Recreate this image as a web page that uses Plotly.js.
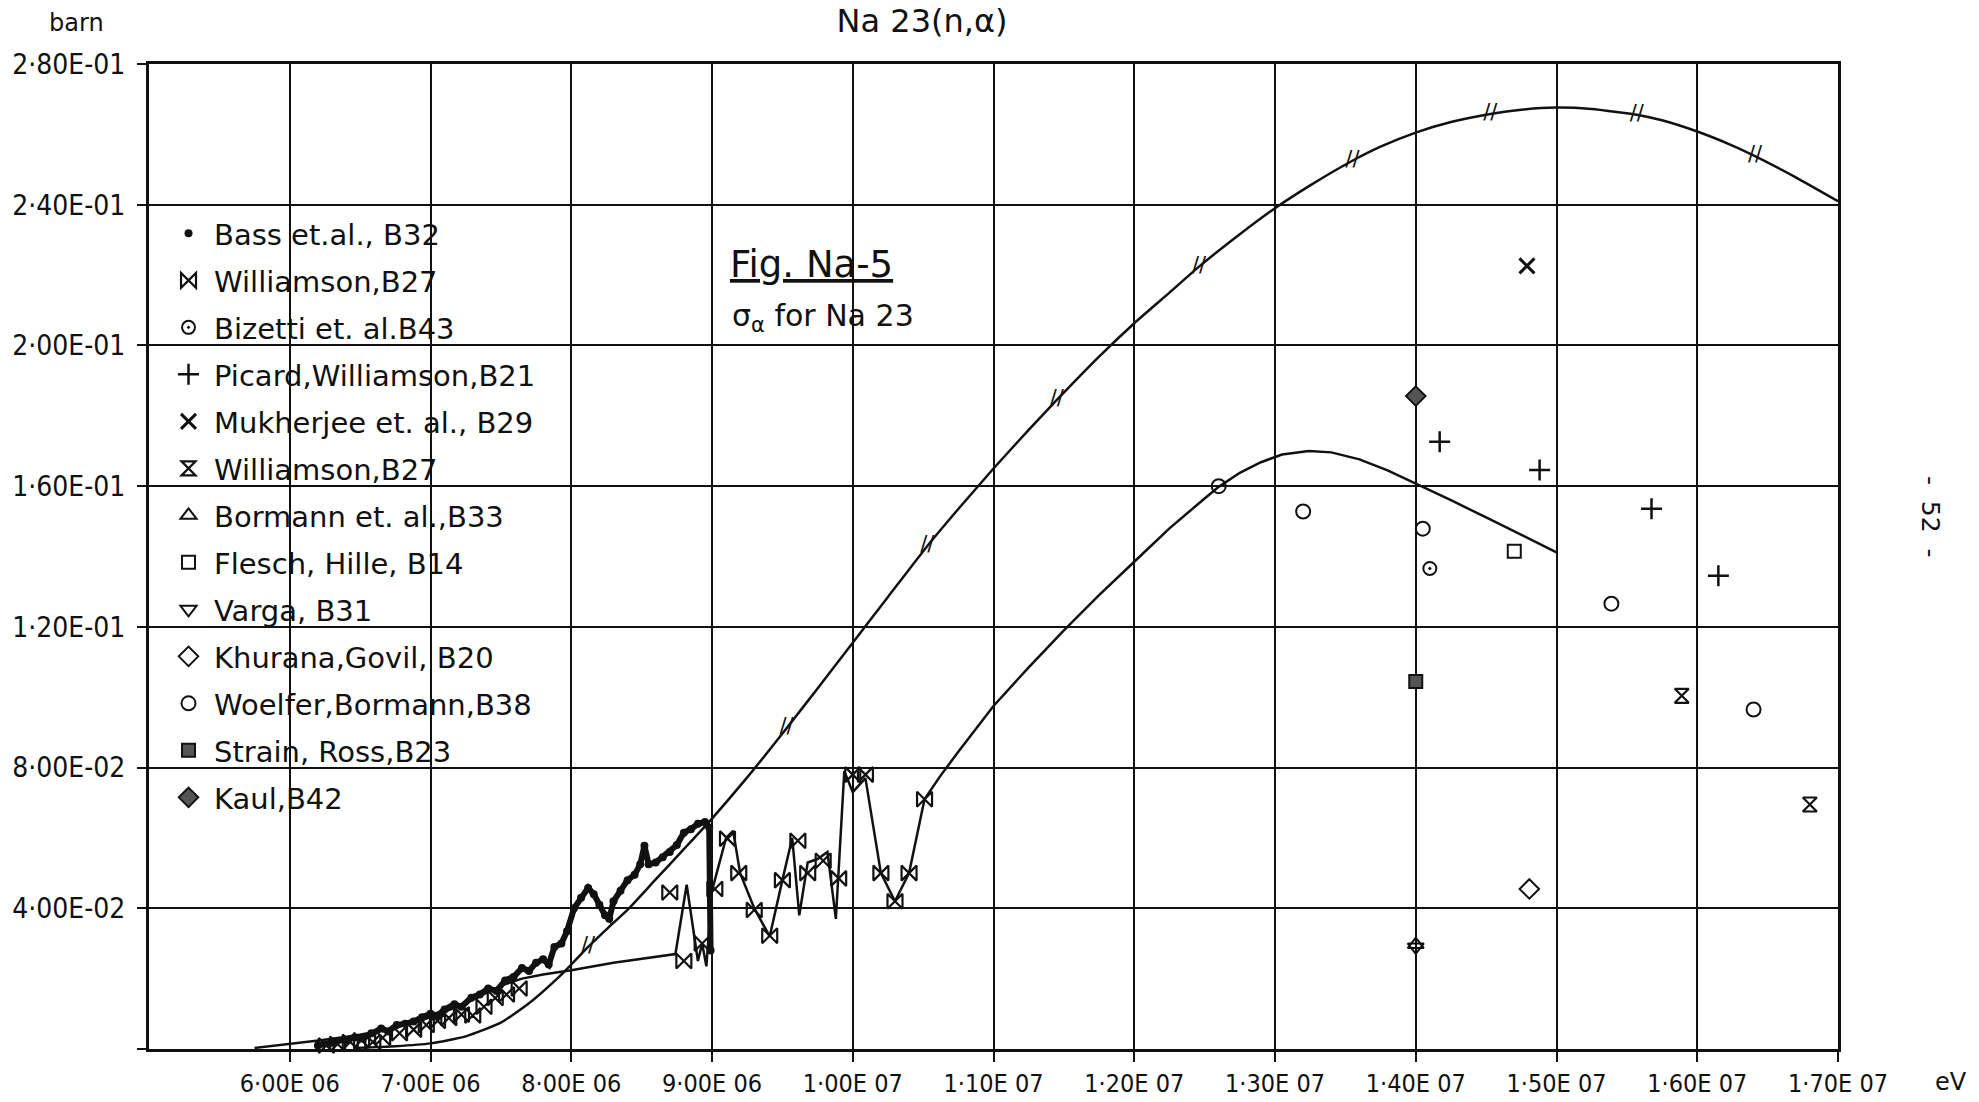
<!DOCTYPE html>
<html>
<head>
<meta charset="utf-8">
<script src="https://cdn.plot.ly/plotly-3.0.1.min.js"></script>
<style>html,body{margin:0;padding:0;background:#fff;}#chart{width:1979px;height:1102px;}</style>
</head>
<body>
<div id="chart"></div>
<script>
// ---------- tick labels ----------
const xTickVals = [6e6, 7e6, 8e6, 9e6, 1e7, 1.1e7, 1.2e7, 1.3e7, 1.4e7, 1.5e7, 1.6e7, 1.7e7];
const xTickText = ["6·00E 06","7·00E 06","8·00E 06","9·00E 06","1·00E 07","1·10E 07","1·20E 07","1·30E 07","1·40E 07","1·50E 07","1·60E 07","1·70E 07"];
const yTickVals = [0, 0.04, 0.08, 0.12, 0.16, 0.20, 0.24, 0.28];
const yTickText = [" ", "4·00E-02","8·00E-02","1·20E-01","1·60E-01","2·00E-01","2·40E-01","2·80E-01"];

// ---------- evaluated curve 1 (upper) ----------
const xEval1 = [6.45e6,6.75e6,7.0e6,7.25e6,7.5e6,7.7e6,7.9e6,8.0e6,8.12e6,8.25e6,8.41e6,8.6e6,8.8e6,9.0e6,9.25e6,9.53e6,9.75e6,1.0e7,1.025e7,1.053e7,1.075e7,1.1e7,1.125e7,1.145e7,1.175e7,1.2e7,1.225e7,1.246e7,1.275e7,1.3e7,1.325e7,1.355e7,1.375e7,1.4e7,1.425e7,1.453e7,1.475e7,1.5e7,1.525e7,1.557e7,1.575e7,1.6e7,1.625e7,1.641e7,1.67e7,1.7e7];
const yEval1 = [0.0003,0.0008,0.0016,0.0036,0.0075,0.0130,0.0200,0.0240,0.0290,0.0340,0.0400,0.0482,0.0568,0.0655,0.0772,0.0912,0.1025,0.1155,0.1285,0.1430,0.1535,0.1650,0.1760,0.1845,0.1968,0.2063,0.2150,0.2224,0.2316,0.2390,0.2455,0.2525,0.2565,0.2605,0.2635,0.2658,0.2670,0.2676,0.2672,0.2656,0.2640,0.2608,0.2568,0.2538,0.2478,0.2410];
const xEval1Marks = [8.12e6,9.53e6,1.053e7,1.145e7,1.246e7,1.355e7,1.453e7,1.557e7,1.641e7];
const yEval1Marks = [0.0290,0.0912,0.1430,0.1845,0.2224,0.2525,0.2658,0.2656,0.2538];

// ---------- curve 2 (lower, incl. Williamson connecting line) ----------
const xEval2 = [5.75e6,6.0e6,6.22e6,6.46e6,6.75e6,7.0e6,7.25e6,7.5e6,7.65e6,7.8e6,8.0e6,8.3e6,8.74e6,
  8.82e6,8.90e6,8.93e6,8.96e6,9.0e6,9.1e6,9.15e6,9.2e6,9.3e6,9.41e6,9.5e6,9.57e6,9.62e6,9.68e6,9.75e6,9.82e6,9.88e6,9.94e6,1.0e7,1.009e7,1.02e7,1.03e7,1.04e7,1.051e7,
  1.062e7,1.075e7,1.1e7,1.125e7,1.15e7,1.175e7,1.2e7,1.225e7,1.25e7,1.26e7,1.275e7,1.29e7,1.305e7,1.324e7,1.34e7,1.36e7,1.38e7,1.4e7,1.425e7,1.45e7,1.475e7,1.5e7];
const yEval2 = [0.0003,0.0014,0.0025,0.0038,0.0060,0.0090,0.0130,0.0180,0.0200,0.0212,0.0224,0.0245,0.0270,
  0.0467,0.0250,0.0300,0.0235,0.0450,0.0600,0.0620,0.0500,0.0400,0.0320,0.0480,0.0600,0.0380,0.0530,0.0540,0.0560,0.0370,0.0790,0.0730,0.0770,0.0500,0.0420,0.0500,0.0710,
  0.0775,0.0845,0.0975,0.1085,0.1190,0.1290,0.1385,0.1480,0.1565,0.1598,0.1638,0.1668,0.1690,0.1700,0.1696,0.1676,0.1645,0.1608,0.1560,0.1511,0.1461,0.1412];

// ---------- Bass et al., B32 ----------
const xBass = [6.20e6,6.30e6,6.40e6,6.46e6,6.52e6,6.58e6,6.65e6,6.70e6,6.76e6,6.82e6,6.88e6,6.94e6,7.00e6,7.05e6,7.10e6,7.17e6,7.22e6,7.29e6,7.35e6,7.41e6,7.47e6,7.53e6,7.59e6,7.65e6,7.70e6,7.75e6,7.80e6,7.84e6,7.88e6,7.93e6,7.97e6,8.02e6,8.07e6,8.12e6,8.16e6,8.20e6,8.24e6,8.27e6,8.30e6,8.35e6,8.40e6,8.45e6,8.49e6,8.52e6,8.55e6,8.60e6,8.65e6,8.70e6,8.75e6,8.80e6,8.85e6,8.90e6,8.95e6,8.98e6,8.99e6];
const yBass = [0.0010,0.0018,0.0025,0.0033,0.0030,0.0045,0.0058,0.0050,0.0068,0.0072,0.0078,0.0090,0.0100,0.0095,0.0112,0.0127,0.0120,0.0146,0.0155,0.0172,0.0165,0.0195,0.0205,0.0230,0.0222,0.0245,0.0255,0.0240,0.0290,0.0300,0.0335,0.0400,0.0430,0.0458,0.0440,0.0410,0.0380,0.0370,0.0420,0.0450,0.0480,0.0495,0.0525,0.0578,0.0525,0.0530,0.0545,0.0560,0.0580,0.0615,0.0625,0.0640,0.0645,0.0630,0.0280];

// ---------- Williamson, B27 (bowtie) ----------
const xWill27a = [6.26e6,6.34e6,6.43e6,6.51e6,6.59e6,6.66e6,6.78e6,6.88e6,6.97e6,7.05e6,7.13e6,7.22e6,7.30e6,7.38e6,7.46e6,7.54e6,7.63e6,
  8.70e6,8.80e6,8.93e6,9.02e6,9.11e6,9.19e6,9.30e6,9.41e6,9.50e6,9.61e6,9.68e6,9.79e6,9.90e6,1.000e7,1.009e7,1.020e7,1.030e7,1.040e7,1.051e7];
const yWill27a = [0.0010,0.0014,0.0020,0.0025,0.0020,0.0032,0.0045,0.0055,0.0068,0.0080,0.0088,0.0098,0.0095,0.0120,0.0145,0.0155,0.0172,
  0.0445,0.0250,0.0300,0.0455,0.0598,0.0500,0.0395,0.0322,0.0480,0.0592,0.0500,0.0535,0.0485,0.0780,0.0780,0.0500,0.0420,0.0500,0.0710];

// ---------- single-point data sets ----------
const xBizetti = [1.41e7];   const yBizetti = [0.1366];
const xPicard = [1.417e7,1.488e7,1.5675e7,1.615e7]; const yPicard = [0.1726,0.1646,0.1536,0.1345];
const xMukherjee = [1.479e7]; const yMukherjee = [0.2226];
const xWill27b = [1.589e7,1.680e7]; const yWill27b = [0.1004,0.0695];
const xBormann = [1.4e7];    const yBormann = [0.0297];
const xFlesch = [1.47e7];    const yFlesch = [0.1415];
const xVarga = [1.4e7];      const yVarga = [0.0290];
const xKhurana = [1.4807e7]; const yKhurana = [0.0455];
const xWoelfer = [1.26e7,1.32e7,1.405e7,1.539e7,1.64e7]; const yWoelfer = [0.1600,0.1528,0.1479,0.1266,0.0965];
const xStrain = [1.4e7];     const yStrain = [0.1045];
const xKaul = [1.4e7];       const yKaul = [0.1856];

const names = ["Bass et.al., B32","Williamson,B27","Bizetti et. al.B43","Picard,Williamson,B21","Mukherjee et. al., B29","Williamson,B27","Bormann et. al.,B33","Flesch, Hille, B14","Varga, B31","Khurana,Govil, B20","Woelfer,Bormann,B38","Strain, Ross,B23","Kaul,B42"];

const K = '#111';
function mk(i, x, y, symbol, size, extra) {
  const m = Object.assign({symbol: symbol, size: size, color: K, line: {color: K, width: 2}}, extra || {});
  return {type: 'scatter', mode: 'markers', x: x, y: y, name: names[i], legendgroup: 'g' + i,
          marker: m, cliponaxis: false, hoverinfo: 'skip'};
}

const traces = [
  {type:'scatter', mode:'lines', x:xEval1, y:yEval1, line:{color:K, width:2.5, shape:'spline', smoothing:0.5}, showlegend:false, hoverinfo:'skip'},
  {type:'scatter', mode:'text', x:xEval1Marks, y:yEval1Marks, text:xEval1Marks.map(()=>'//'), textposition:'middle center',
   textfont:{family:'DejaVu Sans', size:21, color:K}, showlegend:false, hoverinfo:'skip'},
  {type:'scatter', mode:'lines', x:xEval2, y:yEval2, line:{color:K, width:2.5}, showlegend:false, hoverinfo:'skip'},
  {type:'scatter', mode:'lines', x:xBass, y:yBass, line:{color:K, width:6}, showlegend:false, hoverinfo:'skip'},
  mk(0, xBass, yBass, 'circle', 8, {line:{width:0}}),
  mk(1, xWill27a, yWill27a, 'bowtie-open', 15, {line:{color:K, width:2.2}}),
  mk(2, xBizetti, yBizetti, 'circle-open-dot', 13),
  mk(3, xPicard, yPicard, 'cross-thin-open', 15, {line:{color:K, width:2.5}}),
  mk(4, xMukherjee, yMukherjee, 'x-thin-open', 15, {line:{color:K, width:3}}),
  mk(5, xWill27b, yWill27b, 'hourglass-open', 14, {line:{color:K, width:2.2}}),
  mk(6, xBormann, yBormann, 'triangle-up-open', 14),
  mk(7, xFlesch, yFlesch, 'square-open', 13),
  mk(8, xVarga, yVarga, 'triangle-down-open', 14),
  mk(9, xKhurana, yKhurana, 'diamond-open', 15),
  mk(10, xWoelfer, yWoelfer, 'circle-open', 14),
  mk(11, xStrain, yStrain, 'square', 13, {color:'#555'}),
  mk(12, xKaul, yKaul, 'diamond', 15, {color:'#555'})
];

const fam = '"DejaVu Sans Condensed", "Liberation Sans Narrow", "DejaVu Sans", sans-serif';

const layout = {
  width:1979, height:1102,
  paper_bgcolor:'#fff', plot_bgcolor:'#fff',
  margin:{l:149, r:141, t:64, b:53, pad:0},
  showlegend:true,
  title:{text:'Na 23(n,α)', x:0.4577, xref:'paper', xanchor:'center', y:0.981, yref:'container', yanchor:'middle',
         font:{family:'DejaVu Sans', size:32, color:K}},
  xaxis:{range:[5e6,1.7e7], tickmode:'array', tickvals:xTickVals, ticktext:xTickText, tickfont:{family:fam, size:25, color:K},
         showgrid:true, gridcolor:K, gridwidth:2, showline:true, linecolor:K, linewidth:3, mirror:true,
         ticks:'outside', ticklen:10, tickwidth:2, tickcolor:K, zeroline:false, ticklabelstandoff:0, fixedrange:true},
  yaxis:{range:[0,0.28], tickmode:'array', tickvals:yTickVals, ticktext:yTickText, tickfont:{family:fam, size:28, color:K},
         showgrid:true, gridcolor:K, gridwidth:2, showline:true, linecolor:K, linewidth:3, mirror:true,
         ticks:'outside', ticklen:9, tickwidth:2, tickcolor:K, zeroline:false, ticklabelstandoff:6, fixedrange:true},
  legend:{x:0.0083, xanchor:'left', y:0.8538, yanchor:'top', bgcolor:'rgba(0,0,0,0)', borderwidth:0,
          traceorder:'grouped', tracegroupgap:6.3, itemwidth:41, font:{family:'DejaVu Sans', size:29, color:K}},
  annotations:[
    {text:'barn', xref:'paper', yref:'paper', x:-0.0432, y:1.0416, showarrow:false, xanchor:'center', yanchor:'middle',
     font:{family:'DejaVu Sans', size:24, color:K}},
    {text:'eV', xref:'paper', yref:'paper', x:1.0669, y:-0.0335, showarrow:false, xanchor:'center', yanchor:'middle',
     font:{family:'DejaVu Sans', size:24, color:K}},
    {text:'-\u00a0\u00a052\u00a0\u00a0-', xref:'paper', yref:'paper', x:1.0551, y:0.5401, showarrow:false, textangle:90, xanchor:'center', yanchor:'middle',
     font:{family:'DejaVu Sans', size:25, color:K}},
    {text:'<u>Fig. Na-5</u>', xref:'paper', yref:'paper', x:0.3428, y:0.796, showarrow:false, xanchor:'left', yanchor:'middle',
     font:{family:'DejaVu Sans', size:37, color:K}},
    {text:'σ<sub>α</sub> for Na 23', xref:'paper', yref:'paper', x:0.3440, y:0.7431, showarrow:false, xanchor:'left', yanchor:'middle',
     font:{family:'DejaVu Sans', size:30, color:K}}
  ]
};

Plotly.newPlot('chart', traces, layout, {staticPlot:true, displayModeBar:false});
</script>
</body>
</html>
